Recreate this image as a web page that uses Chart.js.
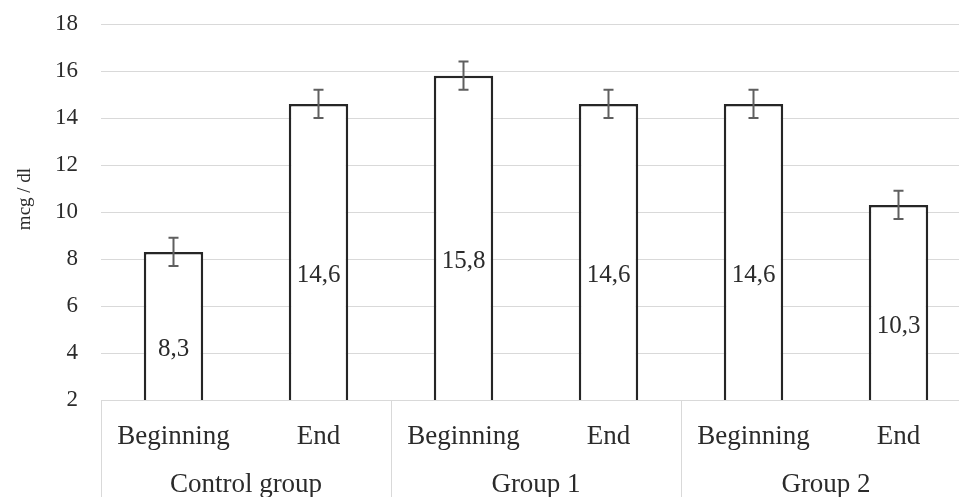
<!DOCTYPE html>
<html>
<head>
<meta charset="utf-8">
<script src="https://cdn.jsdelivr.net/npm/chart.js@4"></script>
<style>
    html, body { margin: 0; padding: 0; overflow: hidden; background: #fff; }
    #wrap { width: 975px; height: 497px; position: relative; }
</style>
</head>
<body>
<div id="wrap"><canvas id="chart"></canvas></div>
<script>
// chart data
const categories = ['Beginning', 'End', 'Beginning', 'End', 'Beginning', 'End'];
const groups = ['Control group', 'Group 1', 'Group 2'];
const values = [8.3, 14.6, 15.8, 14.6, 14.6, 10.3];
const errors = [0.6, 0.6, 0.6, 0.6, 0.6, 0.6];
const valueLabels = ['8,3', '14,6', '15,8', '14,6', '14,6', '10,3'];
const yTitle = 'mcg / dl';

const FONT = '"Liberation Serif", "Times New Roman", serif';
const TEXT = '#2b2b2b';
const GRID = '#d9d9d9';

// error bars, labels inside bars, axis title and the two-level category axis
const extrasPlugin = {
    id: 'extras',
    afterDatasetsDraw(chart) {
        const ctx = chart.ctx;
        const x = chart.scales.x;
        const y = chart.scales.y;
        const meta = chart.getDatasetMeta(0);

        ctx.save();
        // error bars
        ctx.strokeStyle = '#5f5f5f';
        ctx.lineWidth = 2;
        meta.data.forEach((bar, i) => {
            const cx = bar.x;
            const hi = y.getPixelForValue(values[i] + errors[i]);
            const lo = y.getPixelForValue(values[i] - errors[i]);
            ctx.beginPath();
            ctx.moveTo(cx, hi); ctx.lineTo(cx, lo);
            ctx.moveTo(cx - 5, hi); ctx.lineTo(cx + 5, hi);
            ctx.moveTo(cx - 5, lo); ctx.lineTo(cx + 5, lo);
            ctx.stroke();
        });

        // value labels in the middle of each bar
        ctx.fillStyle = TEXT;
        ctx.font = '25px ' + FONT;
        ctx.textAlign = 'center';
        ctx.textBaseline = 'middle';
        meta.data.forEach((bar, i) => {
            ctx.fillText(valueLabels[i], bar.x, (bar.y + bar.base) / 2);
        });

        // y axis title
        ctx.save();
        ctx.translate(25, 199);
        ctx.rotate(-Math.PI / 2);
        ctx.font = '19px ' + FONT;
        ctx.fillText(yTitle, 0, 0);
        ctx.restore();

        // category and group labels
        const half = (x.getPixelForValue(1) - x.getPixelForValue(0)) / 2;
        ctx.font = '27px ' + FONT;
        ctx.textBaseline = 'alphabetic';
        categories.forEach((c, i) => {
            ctx.fillText(c, x.getPixelForValue(i), x.top + 44);
        });
        groups.forEach((g, k) => {
            const gx = (x.getPixelForValue(2 * k) + x.getPixelForValue(2 * k + 1)) / 2;
            ctx.fillText(g, gx, x.top + 92);
        });

        // group separators
        ctx.strokeStyle = GRID;
        ctx.lineWidth = 1;
        for (let k = 0; k <= groups.length; k++) {
            const sx = Math.round(x.getPixelForValue(2 * k) - half) + 0.5;
            ctx.beginPath();
            ctx.moveTo(sx, x.top);
            ctx.lineTo(sx, chart.height);
            ctx.stroke();
        }
        ctx.restore();
    }
};

new Chart(document.getElementById('chart'), {
    type: 'bar',
    data: {
        labels: categories,
        datasets: [{
            data: values,
            backgroundColor: '#ffffff',
            borderColor: '#262626',
            borderWidth: 2.5,
            borderSkipped: 'bottom',
            barPercentage: 0.41,
            categoryPercentage: 1
        }]
    },
    options: {
        responsive: true,
        maintainAspectRatio: false,
        animation: false,
        layout: { padding: { top: 24, right: 4, bottom: 0, left: 0 } },
        plugins: {
            legend: { display: false },
            tooltip: { enabled: false }
        },
        scales: {
            x: {
                grid: { display: false },
                border: { display: true, color: GRID, width: 1 },
                ticks: { display: false },
                afterFit: s => { s.height = 97; }
            },
            y: {
                min: 2,
                max: 18,
                ticks: {
                    stepSize: 2,
                    padding: 23,
                    color: TEXT,
                    font: { family: FONT, size: 23 }
                },
                grid: { color: GRID, lineWidth: 1, drawTicks: false },
                border: { display: false },
                afterFit: s => {
                    s.width = 101;
                    // tick padding would otherwise push the plot top down
                    s.paddingTop = 0;
                    s.paddingBottom = 0;
                }
            }
        }
    },
    plugins: [extrasPlugin]
});
</script>
</body>
</html>
